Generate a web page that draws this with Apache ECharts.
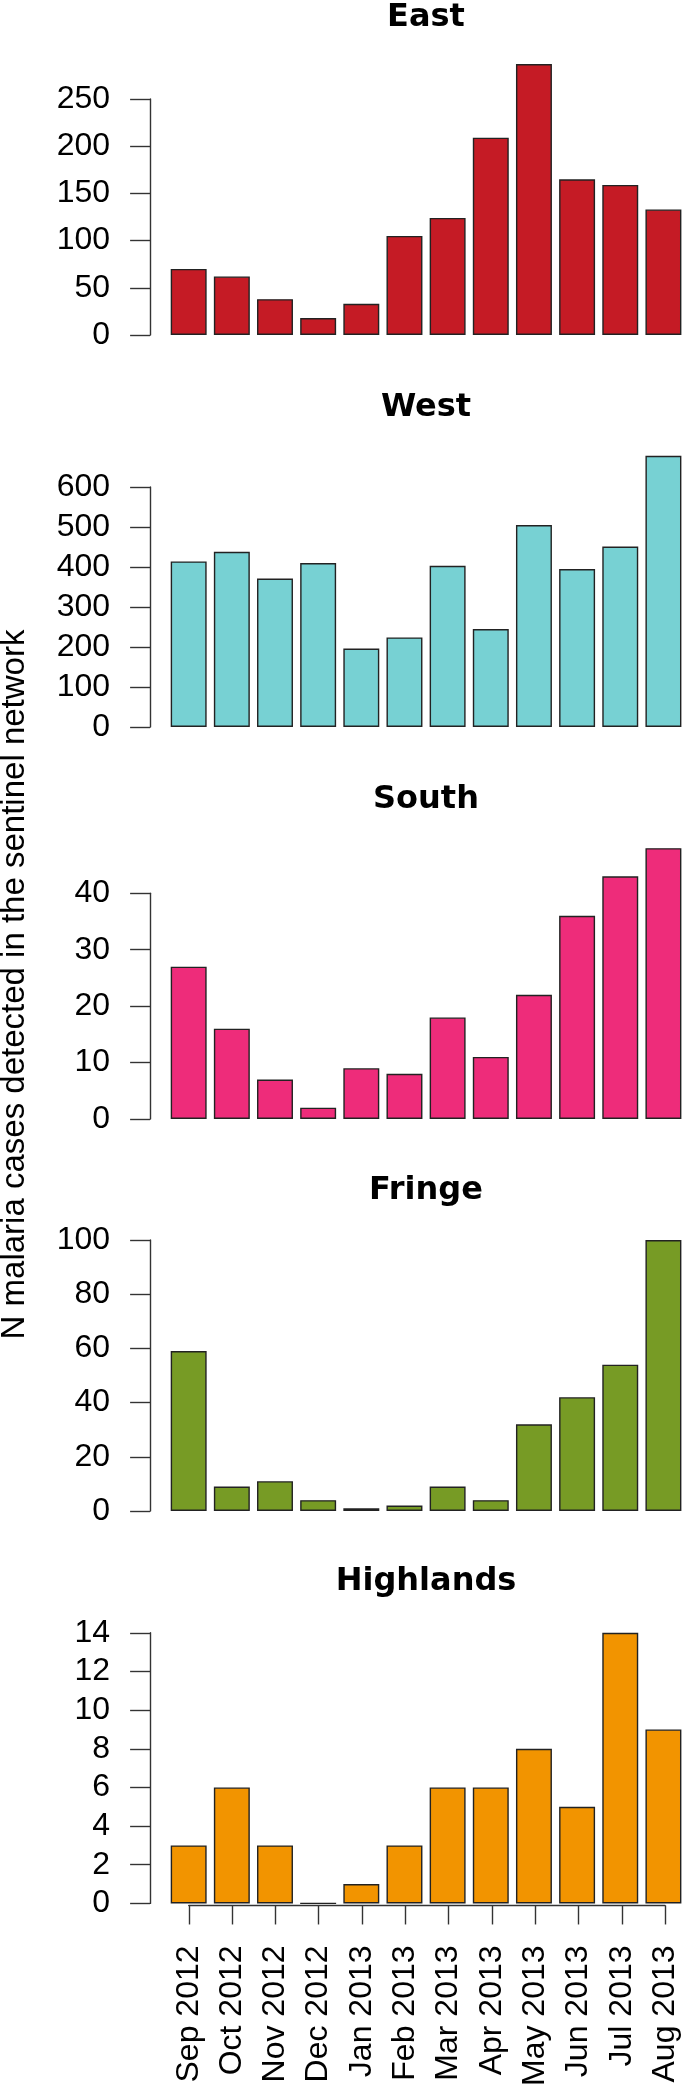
<!DOCTYPE html>
<html>
<head>
<meta charset="utf-8">
<script src="https://cdn.jsdelivr.net/npm/echarts@6/dist/echarts.min.js"></script>
<style>
html,body{margin:0;padding:0;background:#fff;}
#c{width:685px;height:2089px;}
</style>
</head>
<body>
<div id="c"></div>
<script>
// ---- data ----
const months = ['Sep 2012','Oct 2012','Nov 2012','Dec 2012','Jan 2013','Feb 2013','Mar 2013','Apr 2013','May 2013','Jun 2013','Jul 2013','Aug 2013'];
const regions = ['East','West','South','Fringe','Highlands'];
const east      = [70, 62, 38, 18, 33, 105, 124, 209, 287, 165, 159, 133];
const west      = [414, 438, 371, 410, 196, 224, 403, 245, 505, 395, 451, 678];
const south     = [27, 16, 7, 2, 9, 8, 18, 11, 22, 36, 43, 48];
const fringe    = [59, 9, 11, 4, 1, 2, 9, 4, 32, 42, 54, 100];
const highlands = [3, 6, 3, 0, 1, 3, 6, 6, 8, 5, 14, 9];
const yMax  = [250, 600, 40, 100, 14];
const yStep = [50, 100, 10, 20, 2];
const yTitle = 'N malaria cases detected in the sentinel network';

// ---- styling / layout ----
const colors = ['#C51B25', '#77D1D3', '#EE2C7A', '#779B25', '#F29400'];
const series_values = [east, west, south, fringe, highlands];
const gridTop  = [99, 487, 893.3, 1240, 1632.8];
const gridZero = [335, 727, 1119, 1511, 1903.4];
const titleY   = [17.2, 407.5, 800, 1191, 1581.5];
const gridLeft = 167.1, bandW = 43.3, gridW = bandW * 12;
const axisColor = '#333';
const tickFont = 'Liberation Sans';

const grids = [], xAxes = [], yAxes = [], series = [], graphics = [];
series_values.forEach((vals, i) => {
  grids.push({left: gridLeft, width: gridW, top: gridTop[i], height: gridZero[i] - gridTop[i], containLabel: false});
  xAxes.push({type: 'category', gridIndex: i, data: months, show: false});
  yAxes.push({
    type: 'value', gridIndex: i, min: 0, max: yMax[i], interval: yStep[i], offset: 17,
    axisLine: {show: true, lineStyle: {color: axisColor, width: 1.4}},
    axisTick: {show: true, length: 20, lineStyle: {color: axisColor, width: 1.4}},
    axisLabel: {margin: 40, fontSize: 32, fontFamily: tickFont, color: '#000'},
    splitLine: {show: false}
  });
  series.push({
    type: 'bar', xAxisIndex: i, yAxisIndex: i, data: vals, clip: false,
    barCategoryGap: '16.7%',
    itemStyle: {color: colors[i], borderColor: '#222', borderWidth: 1.4},
    silent: true
  });
  graphics.push({
    type: 'text', x: 426, y: titleY[i],
    style: {text: regions[i], font: 'bold 32px "DejaVu Sans"', fill: '#000', textAlign: 'center', textVerticalAlign: 'middle'}
  });
});

// bottom month axis (spans first to last bar centre, as in the original)
const gi = grids.length;
grids.push({left: gridLeft + bandW / 2, width: bandW * 11, top: 1880, height: 26.7});
xAxes.push({
  type: 'category', gridIndex: gi, data: months, boundaryGap: false,
  axisLine: {show: true, lineStyle: {color: axisColor, width: 1.4}},
  axisTick: {show: true, length: 19, lineStyle: {color: axisColor, width: 1.4}},
  axisLabel: {rotate: 90, margin: 40, fontSize: 32, fontFamily: tickFont, color: '#000', interval: 0}
});
yAxes.push({type: 'value', gridIndex: gi, show: false});

graphics.push({
  type: 'text', x: 14.6, y: 984.5, rotation: Math.PI / 2,
  style: {text: yTitle, font: '33px "Liberation Sans"', fill: '#000', textAlign: 'center', textVerticalAlign: 'middle'}
});

const chart = echarts.init(document.getElementById('c'), null, {renderer: 'canvas'});
chart.setOption({
  animation: false,
  backgroundColor: '#fff',
  grid: grids,
  xAxis: xAxes,
  yAxis: yAxes,
  series: series,
  graphic: graphics
});
</script>
</body>
</html>
